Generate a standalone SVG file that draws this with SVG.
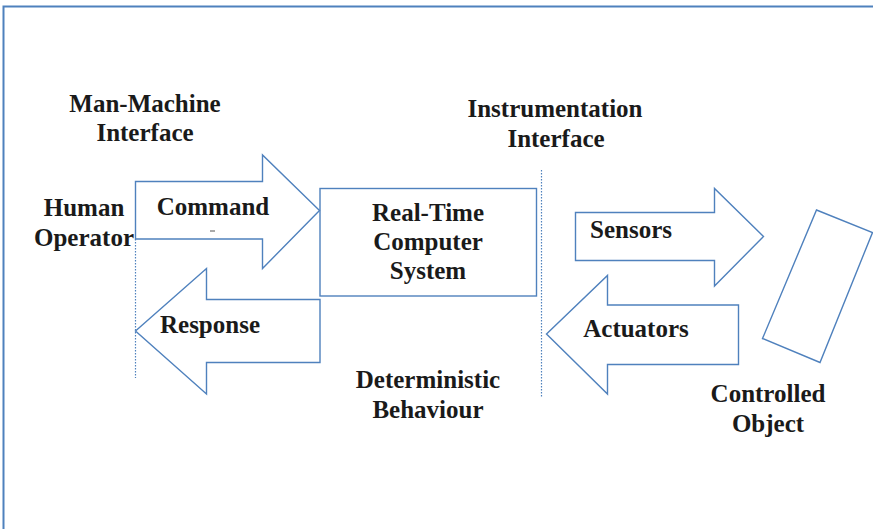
<svg xmlns="http://www.w3.org/2000/svg" width="873" height="529" viewBox="0 0 873 529">
  <style>
    .shape { fill: none; stroke: #4f81bd; stroke-width: 1.4; stroke-linejoin: miter; }
    .div { fill: none; stroke: #4f81bd; stroke-width: 1.2; stroke-dasharray: 1.5 1.5; }
    .frame { fill: none; stroke: #4f81bd; stroke-width: 2; }
    text { font-family: "Liberation Serif", "Times New Roman", serif; font-weight: bold; font-size: 25px; fill: #1a1a1a; text-anchor: middle; }
  </style>
  <rect width="873" height="529" fill="#ffffff"/>
  <!-- outer frame -->
  <path class="frame" d="M3.5,529 V6.5 H873"/>

  <!-- interface boundaries -->
  <g id="connectors">
    <line class="div" x1="135.5" y1="239" x2="135.5" y2="378"/>
    <line class="div" x1="541.5" y1="170" x2="541.5" y2="398"/>
  </g>

  <g id="man-machine-label">
    <text x="145" y="112">Man-Machine</text>
    <text x="145" y="141">Interface</text>
  </g>
  <g id="instrumentation-label">
    <text x="555" y="117">Instrumentation</text>
    <text x="556" y="147">Interface</text>
  </g>
  <g id="human-operator">
    <text x="84" y="216">Human</text>
    <text x="84" y="246">Operator</text>
  </g>

  <g id="command">
    <path class="shape" d="M135.5,181.5 H262.5 V155 L319.5,210.5 L262.5,268.5 V239 H135.5 Z"/>
    <text x="213" y="215">Command</text>
    <line x1="210" y1="231" x2="215" y2="231" stroke="#555" stroke-width="1"/>
  </g>

  <g id="response">
    <path class="shape" d="M135.5,331 L206.5,268.5 V299.5 H320 V362.5 H206.5 V394 Z"/>
    <text x="210" y="333">Response</text>
  </g>

  <g id="computer-system">
    <rect class="shape" x="320" y="188.5" width="216.5" height="107.5"/>
    <text x="428" y="221">Real-Time</text>
    <text x="428" y="250">Computer</text>
    <text x="428" y="279">System</text>
  </g>

  <g id="deterministic-label">
    <text x="428" y="388">Deterministic</text>
    <text x="428" y="418">Behaviour</text>
  </g>

  <g id="sensors">
    <path class="shape" d="M575.5,212.5 H714.5 V188.5 L763.5,236.5 L714.5,286 V260.5 H575.5 Z"/>
    <text x="631" y="238">Sensors</text>
  </g>

  <g id="actuators">
    <path class="shape" d="M546.5,334 L607.5,275.5 V305 H738.5 V364.5 H607.5 V394 Z"/>
    <text x="636" y="337">Actuators</text>
  </g>

  <g id="controlled-object">
    <polygon class="shape" points="816.5,210 872.5,232.5 820,362.5 762.5,338.5"/>
    <text x="768" y="402">Controlled</text>
    <text x="768" y="432">Object</text>
  </g>
</svg>
